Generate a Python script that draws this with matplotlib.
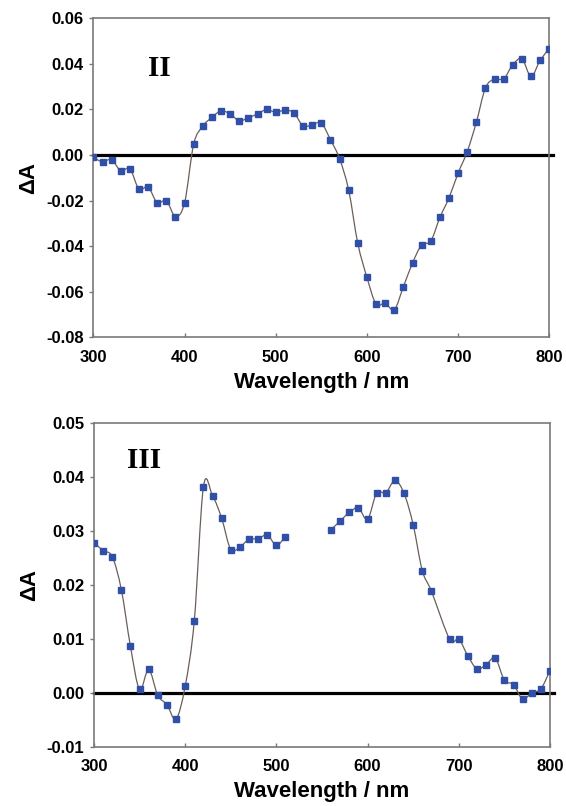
import numpy as np
import matplotlib
matplotlib.use("Agg")
import matplotlib.pyplot as plt
from matplotlib.path import Path
from matplotlib.patches import PathPatch
from matplotlib.ticker import FuncFormatter

# ---------------- data ----------------
wl_II = [300, 310, 320, 330, 340, 350, 360, 370, 380, 390, 400, 410, 420, 430, 440,
         450, 460, 470, 480, 490, 500, 510, 520, 530, 540, 550, 560, 570, 580, 590,
         600, 610, 620, 630, 640, 650, 660, 670, 680, 690, 700, 710, 720, 730, 740,
         750, 760, 770, 780, 790, 800]
dA_II = [-0.001, -0.003, -0.002, -0.007, -0.006, -0.015, -0.014, -0.021, -0.020, -0.027,
         -0.021, 0.0048, 0.0127, 0.0165, 0.0194, 0.018, 0.015, 0.0164, 0.018, 0.020,
         0.0187, 0.0197, 0.0185, 0.0127, 0.0133, 0.014, 0.0067, -0.0016, -0.0155, -0.0388,
         -0.0537, -0.0654, -0.0650, -0.0679, -0.0578, -0.0474, -0.0394, -0.0378, -0.0274,
         -0.0188, -0.0079, 0.0015, 0.0144, 0.0295, 0.0334, 0.0334, 0.0397, 0.0422, 0.0345,
         0.0416, 0.0467]

wl_III = [300, 310, 320, 330, 340, 350, 360, 370, 380, 390, 400, 410, 420, 430, 440,
          450, 460, 470, 480, 490, 500, 510, 520, 530, 540, 550, 560, 570, 580, 590,
          600, 610, 620, 630, 640, 650, 660, 670, 690, 700, 710, 720, 730, 740,
          750, 760, 770, 780, 790, 800]
dA_III = [0.0278, 0.0263, 0.0252, 0.0191, 0.0086, 0.0006, 0.0043, -0.0005, -0.0022, -0.0049,
          0.0012, 0.0133, 0.0381, 0.0365, 0.0323, 0.0265, 0.0270, 0.0284, 0.0285, 0.0292,
          0.0273, 0.0289, np.nan, np.nan, np.nan, np.nan, 0.0302, 0.0318, 0.0334, 0.0342,
          0.0321, 0.0370, 0.0370, 0.0393, 0.0369, 0.0311, 0.0226, 0.0188, 0.0099, 0.0099,
          0.0068, 0.0044, 0.0052, 0.0064, 0.0023, 0.0015, -0.0012, 0.0000, 0.0007, 0.0041]

yticks_II = [-0.08, -0.06, -0.04, -0.02, 0.00, 0.02, 0.04, 0.06]
yticks_III = [-0.01, 0.00, 0.01, 0.02, 0.03, 0.04, 0.05]
xticks = [300, 400, 500, 600, 700, 800]
panel_labels = ["II", "III"]
xlabel = "Wavelength / nm"
ylabel = "\u0394A"

# ---------------- style ----------------
MARKER_C = "#2f4fa8"
LINE_C = "#6a5f58"
SPINE_C = "#7d7874"
plt.rcParams["font.family"] = ["Liberation Sans", "DejaVu Sans"]


def smooth_path(x, y):
    """Bezier (Catmull-Rom style) path through the points, split at NaNs."""
    x = np.asarray(x, float)
    y = np.asarray(y, float)
    verts, codes = [], []
    ok = ~np.isnan(y)
    idx = np.where(ok)[0]
    runs = np.split(idx, np.where(np.diff(idx) != 1)[0] + 1)
    for r in runs:
        px, py = x[r], y[r]
        n = len(px)
        if n < 2:
            continue
        verts.append((px[0], py[0]))
        codes.append(Path.MOVETO)
        for i in range(n - 1):
            i0 = max(i - 1, 0)
            i3 = min(i + 2, n - 1)
            c1 = (px[i] + (px[i + 1] - px[i0]) / 6.0, py[i] + (py[i + 1] - py[i0]) / 6.0)
            c2 = (px[i + 1] - (px[i3] - px[i]) / 6.0, py[i + 1] - (py[i3] - py[i]) / 6.0)
            verts += [c1, c2, (px[i + 1], py[i + 1])]
            codes += [Path.CURVE4] * 3
    return Path(verts, codes)


def fmt(v, pos):
    s = f"{v:.2f}"
    if s == "-0.00":
        s = "0.00"
    return s


fig = plt.figure(figsize=(5.66, 8.06), dpi=100)
ax1 = fig.add_axes([0.165, 0.5815, 0.8055, 0.3958])
ax2 = fig.add_axes([0.166, 0.0736, 0.8057, 0.402])

panels = [
    (ax1, wl_II, dA_II, yticks_II, panel_labels[0], (0.12, 0.82)),
    (ax2, wl_III, dA_III, yticks_III, panel_labels[1], (0.072, 0.86)),
]

for ax, x, y, yt, lab, lpos in panels:
    ax.axhline(0, xmin=0, xmax=1.008, color="black", lw=2.3, zorder=2, clip_on=False)
    patch = PathPatch(smooth_path(x, y), facecolor="none", edgecolor=LINE_C, lw=0.9, zorder=3)
    ax.add_patch(patch)
    ax.plot(x, y, linestyle="none", marker="s", markersize=4.8,
            markerfacecolor=MARKER_C, markeredgecolor=MARKER_C, zorder=4)
    ax.set_xlim(300, 800)
    ax.set_ylim(yt[0], yt[-1])
    ax.set_xticks(xticks)
    ax.set_yticks(yt)
    ax.yaxis.set_major_formatter(FuncFormatter(fmt))
    for s in ax.spines.values():
        s.set_color(SPINE_C)
        s.set_linewidth(1.2)
    ax.tick_params(axis="x", direction="in", length=3, width=1, color=SPINE_C,
                   labelsize=12, pad=9)
    ax.tick_params(axis="y", direction="out", length=3, width=1, color=SPINE_C,
                   labelsize=12, pad=4)
    for t in ax.get_xticklabels() + ax.get_yticklabels():
        t.set_fontweight("bold")
    ax.set_xlabel(xlabel, fontsize=16, fontweight="bold", labelpad=5)
    ax.set_ylabel(ylabel, fontsize=16, fontweight="bold", labelpad=5)
    ax.text(lpos[0], lpos[1], lab, transform=ax.transAxes, fontsize=21,
            fontweight="bold", family=["Liberation Serif", "DejaVu Serif"],
            ha="left", va="baseline")

fig.savefig("out.png", dpi=100, facecolor="white")
